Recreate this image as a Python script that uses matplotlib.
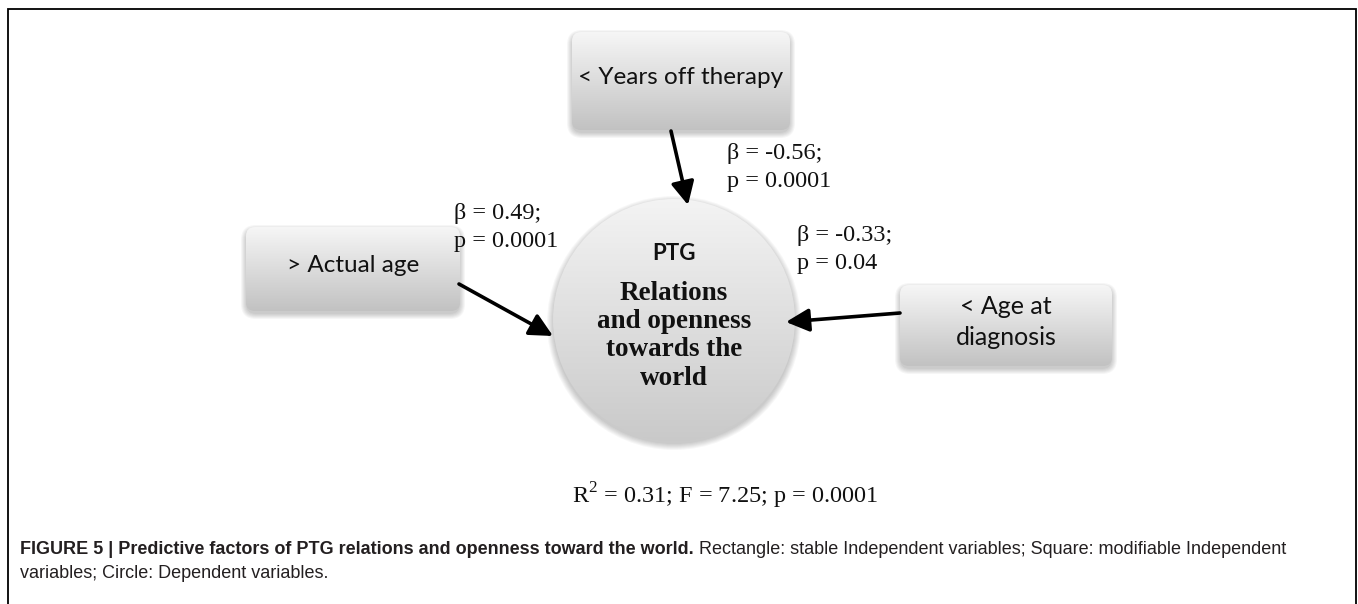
import numpy as np
import matplotlib
matplotlib.use("Agg")
import matplotlib.pyplot as plt
from matplotlib.patches import FancyBboxPatch, Circle

plt.rcParams["mathtext.fontset"] = "custom"
plt.rcParams["mathtext.rm"] = "Liberation Serif"

# ---------------- data ----------------
predictors = ["< Years off therapy", "> Actual age", "< Age at\ndiagnosis"]
betas = ["-0.56", "0.49", "-0.33"]
pvalues = ["0.0001", "0.0001", "0.04"]
dv_title = "PTG"
dv_lines = ["Relations", "and openness", "towards the", "world"]
model_r2 = "0.31"
model_f = "7.25"
model_p = "0.0001"
caption_bold = "FIGURE 5 | Predictive factors of PTG relations and openness toward the world."
caption_rest1 = "Rectangle: stable Independent variables; Square: modifiable Independent"
caption_rest2 = "variables; Circle: Dependent variables."

# ---------------- layout (pixels) ----------------
W, H = 1358, 604
boxes = [(572, 32, 790, 130), (246, 227, 460, 311), (900, 285, 1112, 366)]
arrows = [((671, 131), (688, 205)), ((459, 284), (553, 336)), ((900, 313), (786, 322))]
beta_pos = [(727, 153), (454, 213), (797, 235)]
circ_c, circ_r = (674, 320), 121

fig = plt.figure(figsize=(W / 100, H / 100), dpi=100)
ax = fig.add_axes([0, 0, 1, 1])
ax.set_xlim(0, W)
ax.set_ylim(H, 0)
ax.axis("off")


def grad_img(top, bottom, n=256):
    t = np.linspace(0, 1, n)[:, None]
    c = (1 - t) * np.array(top) + t * np.array(bottom)
    return np.repeat(c[:, None, :], 2, axis=1)


# boxes
for (x0, y0, x1, y1), lab in zip(boxes, predictors):
    w, h = x1 - x0, y1 - y0
    for i in range(6):
        e = 1 + i
        sp = FancyBboxPatch((x0 - e + 1, y0 + 3 - e + 1), w + 2 * e - 2, h + 2 * e - 2,
                            boxstyle="round,pad=0,rounding_size=%d" % (9 + e),
                            fc="black", ec="none", alpha=0.035, zorder=1)
        ax.add_patch(sp)
    patch = FancyBboxPatch((x0, y0), w, h, boxstyle="round,pad=0,rounding_size=9",
                           fc="none", ec="none", zorder=2)
    ax.add_patch(patch)
    im = ax.imshow(grad_img((0.965, 0.965, 0.965), (0.76, 0.76, 0.76)),
                   extent=(x0, x1, y1, y0), aspect="auto", zorder=2, interpolation="bilinear")
    im.set_clip_path(patch)
    lines = lab.split("\n")
    cy = (y0 + y1) / 2 - 4
    if len(lines) == 1:
        ax.text((x0 + x1) / 2, cy, lab, ha="center", va="center", fontsize=17.5,
                family="Lato", color="#111111", zorder=5)
    else:
        for k, ln in enumerate(lines):
            ax.text((x0 + x1) / 2, cy - 15 + 31 * k, ln, ha="center", va="center",
                    fontsize=18, family="Lato", color="#111111", zorder=5)

# circle with shadow
for i in range(7):
    e = 1 + i
    ax.add_patch(Circle((circ_c[0], circ_c[1] + 3), circ_r + e - 1, fc="black", ec="none",
                        alpha=0.03, zorder=1))
cpatch = Circle(circ_c, circ_r, fc="none", ec="none", zorder=2)
ax.add_patch(cpatch)
im = ax.imshow(grad_img((0.955, 0.955, 0.955), (0.79, 0.79, 0.79)),
               extent=(circ_c[0] - circ_r, circ_c[0] + circ_r, circ_c[1] + circ_r, circ_c[1] - circ_r),
               aspect="auto", zorder=2, interpolation="bilinear")
im.set_clip_path(cpatch)

ax.text(circ_c[0], 253, dv_title, ha="center", va="center", fontsize=16,
        family="Lato", weight="bold", color="#111111", zorder=5)
for k, ln in enumerate(dv_lines):
    ax.text(circ_c[0], 293 + 28.5 * k, ln, ha="center", va="center", fontsize=19.5,
            family="Liberation Serif", weight="bold", color="#111111", zorder=5)

# arrows
for (s, e) in arrows:
    ax.annotate("", xy=e, xytext=s,
                arrowprops=dict(arrowstyle="-|>,head_length=0.7,head_width=0.35",
                                lw=2.6, color="black", shrinkA=0, shrinkB=0,
                                mutation_scale=20), zorder=6)

# beta labels
for (x, y), b, p in zip(beta_pos, betas, pvalues):
    ax.text(x, y, "\u03b2 = %s;" % b, ha="left", va="center", fontsize=17.5,
            family="Liberation Serif", color="#111111", zorder=5)
    ax.text(x, y + 29, "p = %s" % p, ha="left", va="center", fontsize=17.5,
            family="Liberation Serif", color="#111111", zorder=5)

# model fit
ax.text(572, 496, "R$^{2}$ = %s; F = %s; p = %s" % (model_r2, model_f, model_p),
        ha="left", va="center", fontsize=17.5, family="Liberation Serif", color="#111111")

# border (top, left, right)
ax.plot([8, 8, 1355.5, 1355.5], [H + 5, 9, 9, H + 5], color="black", lw=1.3,
        solid_joinstyle="miter", clip_on=False)

# caption
fig.canvas.draw()
r = fig.canvas.get_renderer()
t1 = ax.text(20, 549, caption_bold, ha="left", va="center", fontsize=13,
             family="Liberation Sans", weight="bold", color="#231f20")
bb = t1.get_window_extent(r)
ax.text(bb.x1 + 5, 549, caption_rest1, ha="left", va="center", fontsize=13,
        family="Liberation Sans", color="#231f20")
ax.text(20, 573, caption_rest2, ha="left", va="center", fontsize=13,
        family="Liberation Sans", color="#231f20")

fig.savefig("out.png", dpi=100)
